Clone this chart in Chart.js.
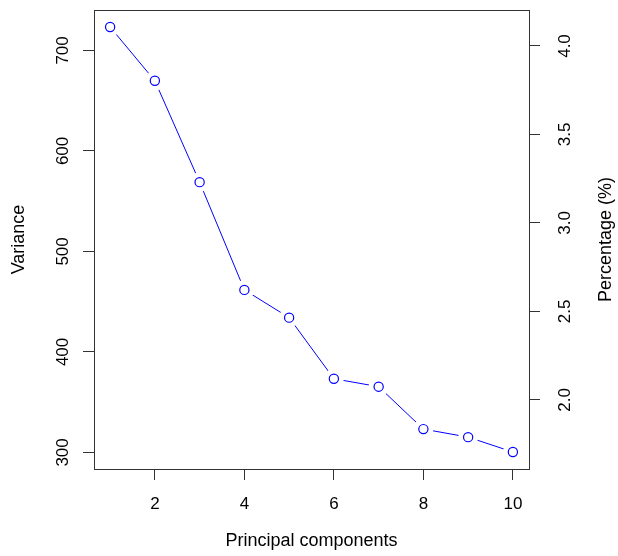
<!DOCTYPE html>
<html>
<head>
<meta charset="utf-8">
<script src="https://cdn.jsdelivr.net/npm/chart.js@4/dist/chart.umd.min.js"></script>
<style>
  html, body { margin: 0; padding: 0; background: #fff; }
  canvas { display: block; }
</style>
</head>
<body>
<canvas id="screePlot" width="618" height="556"></canvas>
<script>
// principal components and their variances
const components = [1, 2, 3, 4, 5, 6, 7, 8, 9, 10];
const variances = [723.3, 669.8, 568.9, 461.7, 434.1, 373.3, 365.4, 323.2, 315.2, 300.4];
const totalVariance = 17610; // percentage axis = variance / total * 100

const xTicks = [2, 4, 6, 8, 10];
const varianceTicks = [300, 400, 500, 600, 700];
const percentTicks = [2.0, 2.5, 3.0, 3.5, 4.0];

const blue = '#0000ff';
const axisColor = '#333';
const font = "'Liberation Sans', Arial, sans-serif";

const points = components.map((c, i) => ({ x: c, y: variances[i] }));

// R style axis range: data range stretched by 4% each side
function rRange(values) {
    const lo = Math.min(...values), hi = Math.max(...values);
    const pad = (hi - lo) * 0.04;
    return [lo - pad, hi + pad];
}
const [xMin, xMax] = rRange(components);
const [yMin, yMax] = rRange(variances);

function fixedTicks(values) {
    return function(scale) {
        scale.ticks = values.map(v => ({ value: v }));
    };
}

const tickGrid = {
    display: true,
    drawOnChartArea: false,
    drawTicks: true,
    tickLength: 11,
    color: axisColor,
    lineWidth: 1
};

// box + rotated R-style labels
const rLabels = {
    id: 'rLabels',
    afterDraw(chart) {
        const ctx = chart.ctx;
        const area = chart.chartArea;
        const sx = chart.scales.x, sy = chart.scales.y, sp = chart.scales.y2;
        ctx.save();
        ctx.strokeStyle = axisColor;
        ctx.lineWidth = 1;
        ctx.strokeRect(Math.round(area.left) + 0.5, Math.round(area.top) + 0.5,
            Math.round(area.right - area.left), Math.round(area.bottom - area.top));

        ctx.fillStyle = '#000';
        ctx.textAlign = 'center';
        ctx.textBaseline = 'alphabetic';

        ctx.font = '17px ' + font;
        xTicks.forEach(v => ctx.fillText(String(v), sx.getPixelForValue(v), 509));

        const rotated = (text, x, y) => {
            ctx.save();
            ctx.translate(x, y);
            ctx.rotate(-Math.PI / 2);
            ctx.fillText(text, 0, 0);
            ctx.restore();
        };
        varianceTicks.forEach(v => rotated(String(v), 68, sy.getPixelForValue(v)));
        percentTicks.forEach(v => rotated(v.toFixed(1), 570, sp.getPixelForValue(v)));

        ctx.font = '18px ' + font;
        const midY = (area.top + area.bottom) / 2;
        ctx.fillText('Principal components', (area.left + area.right) / 2, 546);
        rotated('Variance', 24, midY);
        rotated('Percentage (%)', 611, midY);
        ctx.restore();
    }
};

new Chart(document.getElementById('screePlot').getContext('2d'), {
    type: 'scatter',
    data: {
        datasets: [
            {
                data: points,
                showLine: true,
                borderColor: blue,
                borderWidth: 1,
                pointRadius: 0,
                tension: 0,
                order: 3
            },
            {
                // white halo gives the gaps of R's type = "b"
                data: points,
                showLine: false,
                pointRadius: 10,
                pointBackgroundColor: '#fff',
                pointBorderWidth: 0,
                order: 2
            },
            {
                data: points,
                showLine: false,
                pointRadius: 4.6,
                pointBorderWidth: 1.2,
                pointBorderColor: blue,
                pointBackgroundColor: 'rgba(0,0,0,0)',
                order: 1
            }
        ]
    },
    options: {
        responsive: false,
        animation: false,
        layout: { padding: { top: 10, left: 0, right: 0, bottom: 0 } },
        plugins: { legend: { display: false }, tooltip: { enabled: false } },
        scales: {
            x: {
                type: 'linear',
                position: 'bottom',
                min: xMin,
                max: xMax,
                afterBuildTicks: fixedTicks(xTicks),
                afterFit: s => { s.height = 87; },
                ticks: { display: false },
                grid: tickGrid,
                border: { display: false }
            },
            y: {
                type: 'linear',
                position: 'left',
                min: yMin,
                max: yMax,
                afterBuildTicks: fixedTicks(varianceTicks),
                afterFit: s => { s.width = 94; },
                ticks: { display: false },
                grid: tickGrid,
                border: { display: false }
            },
            y2: {
                type: 'linear',
                position: 'right',
                min: yMin / totalVariance * 100,
                max: yMax / totalVariance * 100,
                afterBuildTicks: fixedTicks(percentTicks),
                afterFit: s => { s.width = 89; },
                ticks: { display: false },
                grid: tickGrid,
                border: { display: false }
            }
        }
    },
    plugins: [rLabels]
});
</script>
</body>
</html>
